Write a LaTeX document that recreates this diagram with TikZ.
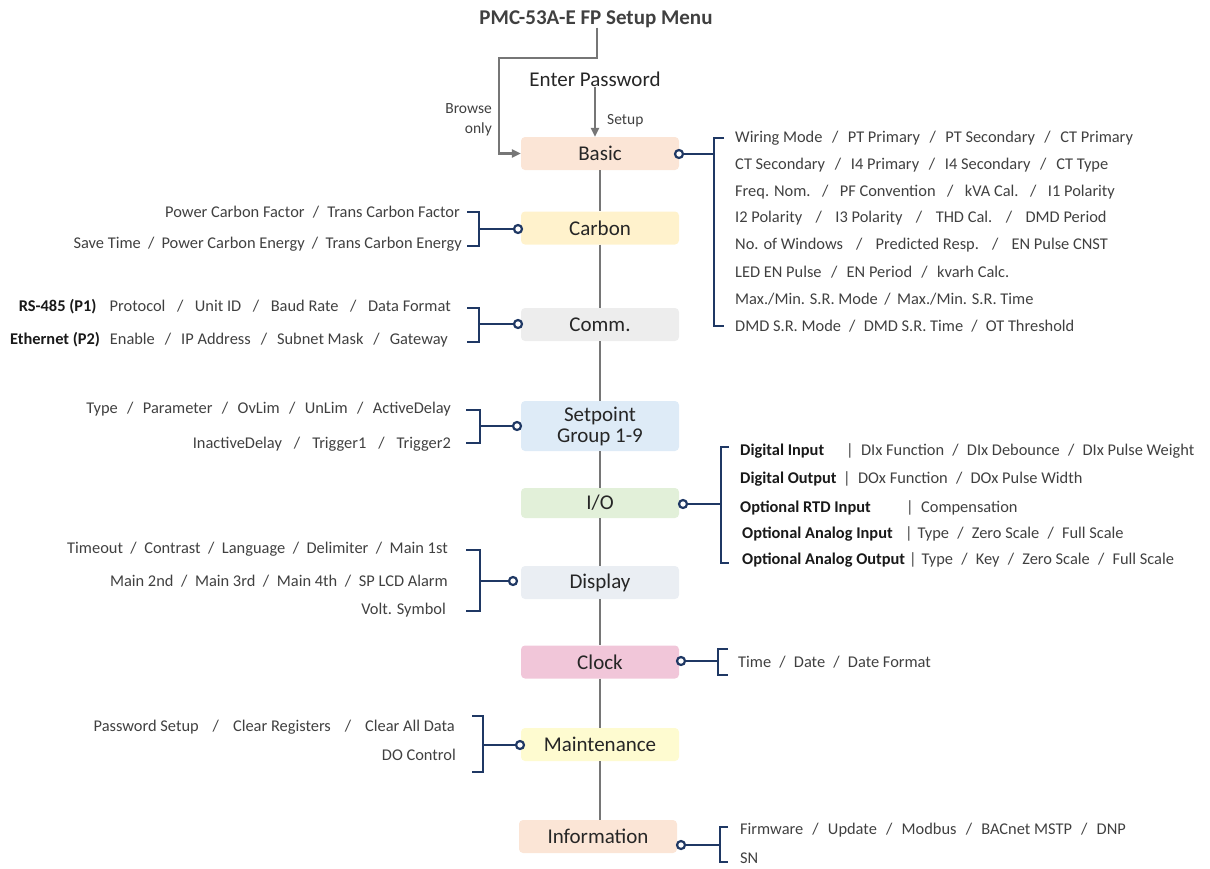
\documentclass[tikz,border=0pt]{standalone}
\usepackage{fontspec}
\setmainfont{Carlito}
\usetikzlibrary{arrows.meta}
\definecolor{navy}{HTML}{1F3864}
\definecolor{spinegray}{HTML}{767676}
\definecolor{txtgray}{HTML}{404040}
\definecolor{cBasic}{HTML}{FBE5D6}
\definecolor{cCarbon}{HTML}{FFF2CC}
\definecolor{cComm}{HTML}{EDEDED}
\definecolor{cSet}{HTML}{DEEBF7}
\definecolor{cIO}{HTML}{E2F0D9}
\definecolor{cDisp}{HTML}{EAEEF3}
\definecolor{cClock}{HTML}{F1C6D9}
\definecolor{cMaint}{HTML}{FEFBD0}
\definecolor{cInfo}{HTML}{FBE5D6}
\newlength{\sepx}
\setlength{\sepx}{8.2pt}
\newcommand{\slsep}{\hspace{\sepx}/\hspace{\sepx}}
\newcommand{\sepw}[1]{\setlength{\sepx}{#1}}
\tikzset{
  menubox/.style={rounded corners=4pt, minimum width=158pt, minimum height=33pt,
    inner sep=0pt, align=center, text=black!85, font=\fontsize{21}{22}\selectfont},
  spine/.style={draw=spinegray, line width=2.2pt},
  garrow/.style={spine, -{Triangle[length=9pt,width=8pt]}},
  conn/.style={draw=navy, line width=2.8pt},
  dot/.style={circle, draw=navy, fill=white, line width=2.2pt, inner sep=0pt, minimum size=8pt},
  lst/.style={inner sep=0pt, text=txtgray, font=\fontsize{16.4}{18}\selectfont},
  small/.style={inner sep=0pt, text=txtgray, font=\fontsize{15.5}{20}\selectfont, align=right},
  bold/.style={lst, text=black!90, font=\fontsize{16.4}{18}\selectfont\bfseries}
}
\begin{document}
\begin{tikzpicture}[x=1pt,y=-1pt]
\useasboundingbox (0,0) rectangle (1210,868);

% title and password
\node[inner sep=0pt, text=txtgray, font=\fontsize{21}{23}\selectfont\bfseries] (title) at (596,19) {PMC-53A-E FP Setup Menu};
\node[inner sep=0pt, text=black!85, font=\fontsize{21}{23}\selectfont] (pwd) at (595,79) {Enter Password};

% menu boxes
\node[menubox, fill=cBasic]  (basic)  at (600,153.5) {Basic};
\node[menubox, fill=cCarbon] (carbon) at (600,228) {Carbon};
\node[menubox, fill=cComm]   (comm)   at (600,324.5) {Comm.};
\node[menubox, fill=cSet, minimum height=50pt] (setp) at (600,426) {Setpoint\\[-1pt]Group 1-9};
\node[menubox, fill=cIO, minimum height=30pt] (io) at (600,503) {I/O};
\node[menubox, fill=cDisp]   (disp)   at (600,582.5) {Display};
\node[menubox, fill=cClock]  (clock)  at (600,662) {Clock};
\node[menubox, fill=cMaint]  (maint)  at (600,744.5) {Maintenance};
\node[menubox, fill=cInfo]   (info)   at (598,836.5) {Information};

% spine
\draw[spine] (basic.south) -- (carbon.north);
\draw[spine] (carbon.south) -- (comm.north);
\draw[spine] (comm.south) -- (setp.north);
\draw[spine] (setp.south) -- (io.north);
\draw[spine] (io.south) -- (disp.north);
\draw[spine] (disp.south) -- (clock.north);
\draw[spine] (clock.south) -- (maint.north);
\draw[spine] (maint.south) -- (info.north -| maint.south);

% browse path and setup arrow
\coordinate (t1) at (597,58);
\coordinate (t2) at (499,58);
\draw[garrow] (title.south -| t1) -- (t1) -- (t2) -- (t2 |- basic.west) -- (basic.west);
\draw[garrow] (pwd.south) -- (basic.north -| pwd.south);
\node[small, anchor=east] (browse) at (492,120) {Browse\\only};
\node[small, anchor=west] (setuplbl) at (607,121) {Setup};

% ---------- Basic ----------
\node[dot] (dBasic) at (679,154) {};
\draw[conn] (dBasic) -- (714,154);
\draw[conn] (724,138) -- (714,138) -- (714,326) -- (724,326);
\foreach \t [count=\i from 0] in {
  {\sepw{9.5pt}Wiring Mode\slsep PT Primary\slsep PT Secondary\slsep CT Primary},
  {\sepw{9.7pt}CT Secondary\slsep I4 Primary\slsep I4 Secondary\slsep CT Type},
  {\sepw{11.5pt}Freq. Nom.\slsep PF Convention\slsep kVA Cal.\slsep I1 Polarity},
  {\sepw{13.5pt}I2 Polarity\slsep I3 Polarity\slsep THD Cal.\slsep DMD Period},
  {\sepw{13.2pt}No. of Windows\slsep Predicted Resp.\slsep EN Pulse CNST},
  {\sepw{9.4pt}LED EN Pulse\slsep EN Period\slsep kvarh Calc.},
  {\sepw{6.5pt}Max./Min. S.R. Mode\slsep Max./Min. S.R. Time},
  {DMD S.R. Mode\slsep DMD S.R. Time\slsep OT Threshold}}
  \node[lst, anchor=west] (b\i) at (735,138+26.86*\i) {\t};

% ---------- Carbon ----------
\node[dot] (dCarbon) at (518,229) {};
\draw[conn] (dCarbon) -- (479,229);
\draw[conn] (467,212) -- (479,212) -- (479,246) -- (467,246);
\node[lst, anchor=east] (c1) at (460,212) {Power Carbon Factor\slsep Trans Carbon Factor};
\node[lst, anchor=east] (c2) at (462,244) {\sepw{7.2pt}Save Time\slsep Power Carbon Energy\slsep Trans Carbon Energy};

% ---------- Comm ----------
\node[dot] (dComm) at (518,324) {};
\draw[conn] (dComm) -- (479,324);
\draw[conn] (467,308) -- (479,308) -- (479,342) -- (467,342);
\node[lst, anchor=east] (m1) at (451,307) {\sepw{11.6pt}\textbf{\color{black!90}RS-485 (P1)}\hspace{0.8em}Protocol\slsep Unit ID\slsep Baud Rate\slsep Data Format};
\node[lst, anchor=east] (m2) at (448,340) {\sepw{10pt}\textbf{\color{black!90}Ethernet (P2)}\hspace{0.6em}Enable\slsep IP Address\slsep Subnet Mask\slsep Gateway};

% ---------- Setpoint ----------
\node[dot] (dSet) at (517,426) {};
\draw[conn] (dSet) -- (480,426);
\draw[conn] (466,410) -- (480,410) -- (480,443) -- (466,443);
\node[lst, anchor=east] (s1) at (451,409) {\sepw{9.4pt}Type\slsep Parameter\slsep OvLim\slsep UnLim\slsep ActiveDelay};
\node[lst, anchor=east] (s2) at (451,444) {\sepw{12pt}InactiveDelay\slsep Trigger1\slsep Trigger2};

% ---------- I/O ----------
\node[dot] (dIO) at (683,504) {};
\draw[conn] (dIO) -- (721,504);
\draw[conn] (729,447) -- (721,447) -- (721,563) -- (729,563);
\node[bold, anchor=west] (io1) at (740,451) {Digital Input};
\node[lst, anchor=west] (io1b) at (846,451) {|\hspace{0.45em}DIx Function\slsep DIx Debounce\slsep DIx Pulse Weight};
\node[bold, anchor=west] (io2) at (740,479) {Digital Output};
\node[lst, anchor=west] (io2b) at (843,479) {|\hspace{0.45em}DOx Function\slsep DOx Pulse Width};
\node[bold, anchor=west] (io3) at (740,508) {Optional RTD Input};
\node[lst, anchor=west] (io3b) at (906,508) {|\hspace{0.45em}Compensation};
\node[bold, anchor=west] (io4) at (742,534) {Optional Analog Input};
\node[lst, anchor=west] (io4b) at (905,534) {|\hspace{0.3em}Type\slsep Zero Scale\slsep Full Scale};
\node[bold, anchor=west] (io5) at (742,560) {Optional Analog Output};
\node[lst, anchor=west] (io5b) at (909,560) {|\hspace{0.3em}Type\slsep Key\slsep Zero Scale\slsep Full Scale};

% ---------- Display ----------
\node[dot] (dDisp) at (513,581) {};
\draw[conn] (dDisp) -- (480,581);
\draw[conn] (466,550) -- (480,550) -- (480,611) -- (466,611);
\node[lst, anchor=east] (d1) at (448,549) {\sepw{7.5pt}Timeout\slsep Contrast\slsep Language\slsep Delimiter\slsep Main 1st};
\node[lst, anchor=east] (d2) at (448,581) {\sepw{7.6pt}Main 2nd\slsep Main 3rd\slsep Main 4th\slsep SP LCD Alarm};
\node[lst, anchor=east] (d3) at (446,610) {Volt. Symbol};

% ---------- Clock ----------
\node[dot] (dClock) at (681,661) {};
\draw[conn] (dClock) -- (718,661);
\draw[conn] (728,649) -- (718,649) -- (718,675) -- (728,675);
\node[lst, anchor=west] (k1) at (738,662) {Time\slsep Date\slsep Date Format};

% ---------- Maintenance ----------
\node[dot] (dMaint) at (520,745) {};
\draw[conn] (dMaint) -- (483,745);
\draw[conn] (472,716) -- (483,716) -- (483,772) -- (472,772);
\node[lst, anchor=east] (n1) at (455,727) {\sepw{14pt}Password Setup\slsep Clear Registers\slsep Clear All Data};
\node[lst, anchor=east] (n2) at (456,755) {DO Control};

% ---------- Information ----------
\node[dot] (dInfo) at (681,845) {};
\draw[conn] (dInfo) -- (720,845);
\draw[conn] (728,827) -- (720,827) -- (720,862) -- (728,862);
\node[lst, anchor=west] (f1) at (740,830) {\sepw{9.2pt}Firmware\slsep Update\slsep Modbus\slsep BACnet MSTP\slsep DNP};
\node[lst, anchor=west] (f2) at (740,858) {SN};
\end{tikzpicture}
\end{document}
